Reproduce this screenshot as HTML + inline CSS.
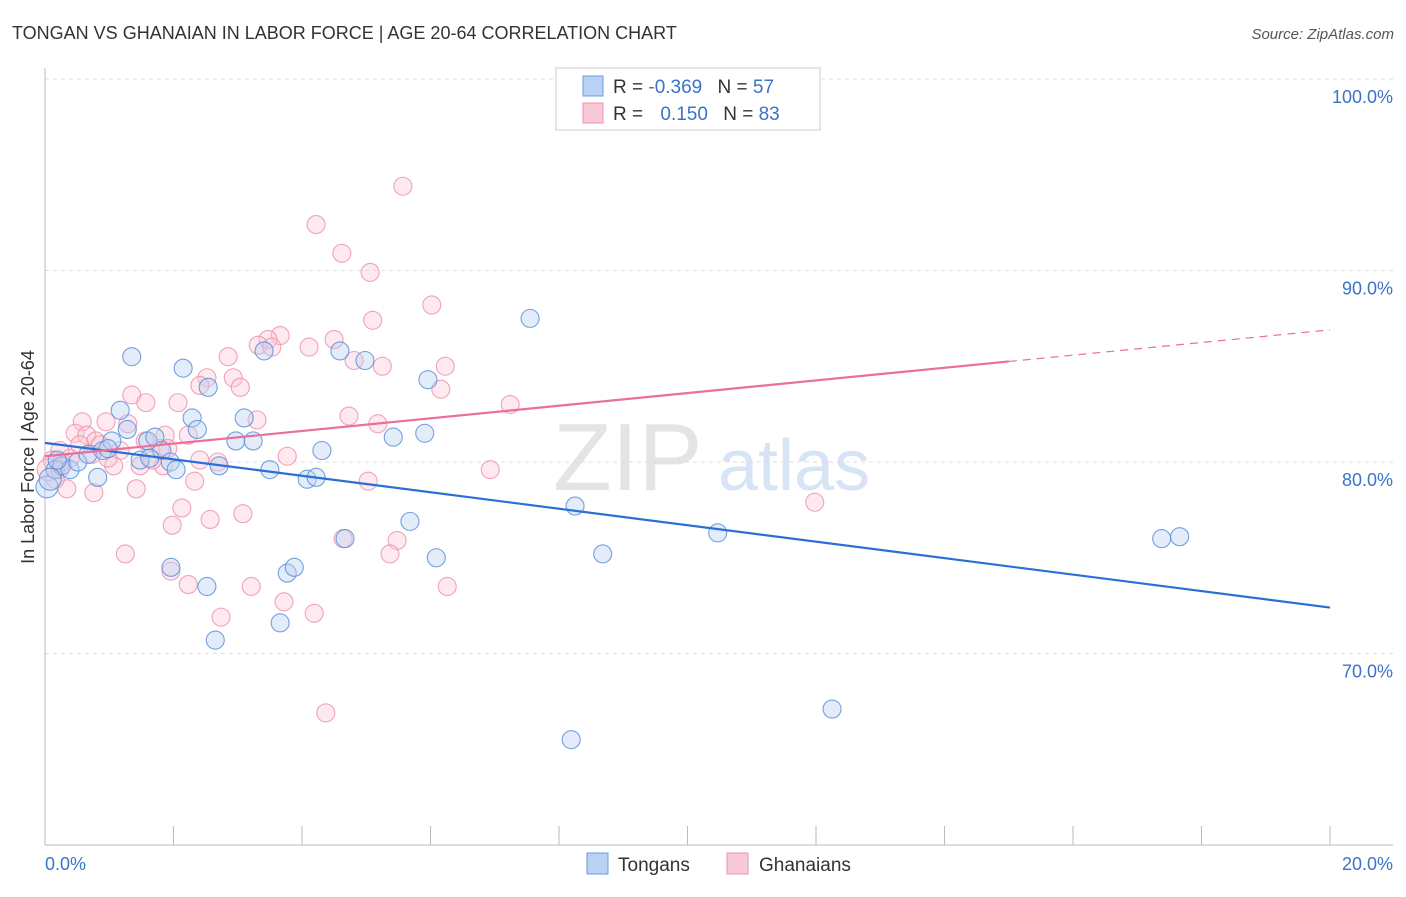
<!DOCTYPE html>
<html><head><meta charset="utf-8"><style>
body{margin:0;background:#fff;font-family:"Liberation Sans",sans-serif}
svg text{font-family:"Liberation Sans",sans-serif}
</style></head><body>
<svg id="c" width="1406" height="892">
<text x="12" y="39" font-size="18" fill="#333">TONGAN VS GHANAIAN IN LABOR FORCE | AGE 20-64 CORRELATION CHART</text>
<text x="1394" y="39" font-size="15" fill="#555" text-anchor="end" font-style="italic">Source: ZipAtlas.com</text>
<text x="553" y="490" font-size="96" fill="#e4e4e4" font-family="Liberation Serif">ZIP</text>
<text x="718" y="490" font-size="72" fill="#d6e4f5">atlas</text>
<g id="grid"></g><g id="pts"></g><g id="lines"></g>
<text transform="translate(34,457) rotate(-90)" font-size="18" fill="#333" text-anchor="middle">In Labor Force | Age 20-64</text>
<text x="45" y="870" font-size="18" fill="#3b73c9">0.0%</text>
<text x="1393" y="870" font-size="18" fill="#3b73c9" text-anchor="end">20.0%</text>
<g>
<rect x="556" y="68" width="264" height="62" fill="#fff" stroke="#ccc"/>
<rect x="583" y="76" width="20" height="20" fill="#b9d1f2" stroke="#6d9be0"/>
<rect x="583" y="103" width="20" height="20" fill="#f9c9d7" stroke="#ee93ae"/>
<text x="613" y="93" font-size="19" fill="#333">R = <tspan fill="#3b73c9">-0.369</tspan>   <tspan dx="10">N = </tspan><tspan fill="#3b73c9">57</tspan></text>
<text x="613" y="120" font-size="19" fill="#333">R = <tspan fill="#3b73c9" dx="12">0.150</tspan>   <tspan dx="10">N = </tspan><tspan fill="#3b73c9">83</tspan></text>
</g>
<g>
<rect x="587" y="853" width="21" height="21" fill="#b9d1f2" stroke="#6d9be0"/>
<text x="618" y="871" font-size="19" fill="#333">Tongans</text>
<rect x="727" y="853" width="21" height="21" fill="#f9c9d7" stroke="#ee93ae"/>
<text x="759" y="871" font-size="19" fill="#333">Ghanaians</text>
</g>
</svg>
<script>
const yTicks=[100,90,80,70];
const yTickLabels=["100.0%","90.0%","80.0%","70.0%"];
const xTicks=[0,2,4,6,8,10,12,14,16,18,20];
const tonganX=[0.03,0.16,0.26,0.39,0.51,0.67,0.82,0.90,1.04,1.17,1.28,1.35,1.48,1.60,1.71,1.82,1.95,2.04,2.15,2.29,2.37,2.54,2.65,2.71,2.97,3.10,3.24,3.41,3.50,3.66,3.77,3.88,4.08,4.22,4.31,4.59,4.67,4.98,5.42,5.68,5.91,5.96,6.09,7.55,8.19,8.25,8.68,10.47,12.25,17.38,17.66,1.96,2.52,0.08,0.19,0.98,1.63];
const tonganY=[78.7,79.6,79.8,79.6,80.0,80.4,79.2,80.6,81.1,82.7,81.7,85.5,80.1,81.1,81.3,80.6,80.0,79.6,84.9,82.3,81.7,83.9,70.7,79.8,81.1,82.3,81.1,85.8,79.6,71.6,74.2,74.5,79.1,79.2,80.6,85.8,76.0,85.3,81.3,76.9,81.5,84.3,75.0,87.5,65.5,77.7,75.2,76.3,67.1,76.0,76.1,74.5,73.5,79.1,80.1,80.7,80.2];
const ghanaX=[5.57,4.22,4.62,5.06,6.02,5.10,3.66,3.47,3.32,3.53,4.11,4.50,4.81,5.25,6.23,2.85,2.52,2.93,2.41,3.04,6.16,1.35,1.57,2.07,7.24,4.73,3.30,5.18,0.58,0.95,1.29,0.47,0.65,1.87,2.23,0.79,0.86,1.56,0.23,1.17,1.79,2.41,2.69,3.77,0.11,0.39,1.07,1.48,1.84,6.93,2.33,5.03,0.34,0.76,1.42,2.13,3.08,2.57,11.98,1.98,4.64,5.48,1.25,5.37,1.96,2.23,3.21,6.26,3.72,4.19,2.74,4.37,0.16,0.05,0.26,0.54,0.73,0.98,1.67,1.91,0.23];
const ghanaY=[94.4,92.4,90.9,89.9,88.2,87.4,86.6,86.4,86.1,86.0,86.0,86.4,85.3,85.0,85.0,85.5,84.4,84.4,84.0,83.9,83.8,83.5,83.1,83.1,83.0,82.4,82.2,82.0,82.1,82.1,82.0,81.5,81.4,81.4,81.4,81.1,80.9,81.1,80.6,80.6,80.7,80.1,80.0,80.3,80.1,80.2,79.8,79.8,79.8,79.6,79.0,79.0,78.6,78.4,78.6,77.6,77.3,77.0,77.9,76.7,76.0,75.9,75.2,75.2,74.3,73.6,73.5,73.5,72.7,72.1,71.9,66.9,79.1,79.6,80.0,80.9,80.4,80.2,80.1,80.7,79.6];
const tonganTrend=[81.0,72.4];
const ghanaTrend=[80.3,86.9];
const ghanaSolidEnd=15;
const NS="http://www.w3.org/2000/svg";
const X=v=>45+v/20*1285, Y=v=>79+(100-v)*19.15;
function mk(t,a,p){const e=document.createElementNS(NS,t);for(const k in a)e.setAttribute(k,a[k]);p.appendChild(e);return e;}
const grid=document.getElementById('grid');
yTicks.forEach((t,i)=>{
 const l=mk('line',{x1:45,x2:1393,y1:Y(t),y2:Y(t),stroke:'#ddd','stroke-dasharray':'4,4'},grid);
 
 
 const tx=mk('text',{x:1393,y:Y(t)+24,'font-size':18,fill:'#3b73c9','text-anchor':'end'},grid);
 tx.textContent=yTickLabels[i];
 
 
});
const ax=mk('line',{x1:45,x2:45,y1:68,y2:845,stroke:'#bbb'},grid);


const bx=mk('line',{x1:45,x2:1393,y1:845,y2:845,stroke:'#bbb'},grid);


xTicks.forEach(t=>{const l=mk('line',{x1:X(t),x2:X(t),y1:826,y2:845,stroke:'#bbb'},grid);
 
 });
const pts=document.getElementById('pts');
function dots(xs,ys,fill,stroke,name){xs.forEach((x,i)=>{
 const c=mk('circle',{cx:X(x),cy:Y(ys[i]),r:(x<0.1?11:9),fill:fill,'fill-opacity':0.4,stroke:stroke,'stroke-width':1.1,'stroke-opacity':0.85},pts);
 
 });}
dots(ghanaX,ghanaY,'#f9c9d7','#ee93ae','ghanaian-point');
dots(tonganX,tonganY,'#b9d1f2','#5d8fdc','tongan-point');
const lines=document.getElementById('lines');
const tl=mk('line',{x1:X(0),y1:Y(tonganTrend[0]),x2:X(20),y2:Y(tonganTrend[1]),stroke:'#2a6fd6','stroke-width':2.2},lines);


const gm=ghanaTrend[0]+(ghanaTrend[1]-ghanaTrend[0])*ghanaSolidEnd/20;
const gl=mk('line',{x1:X(0),y1:Y(ghanaTrend[0]),x2:X(ghanaSolidEnd),y2:Y(gm),stroke:'#e8709a','stroke-width':2.2},lines);


const gd=mk('line',{x1:X(ghanaSolidEnd),y1:Y(gm),x2:X(20),y2:Y(ghanaTrend[1]),stroke:'#e8709a','stroke-width':1.2,'stroke-dasharray':'8,6'},lines);


</script>
</body></html>
